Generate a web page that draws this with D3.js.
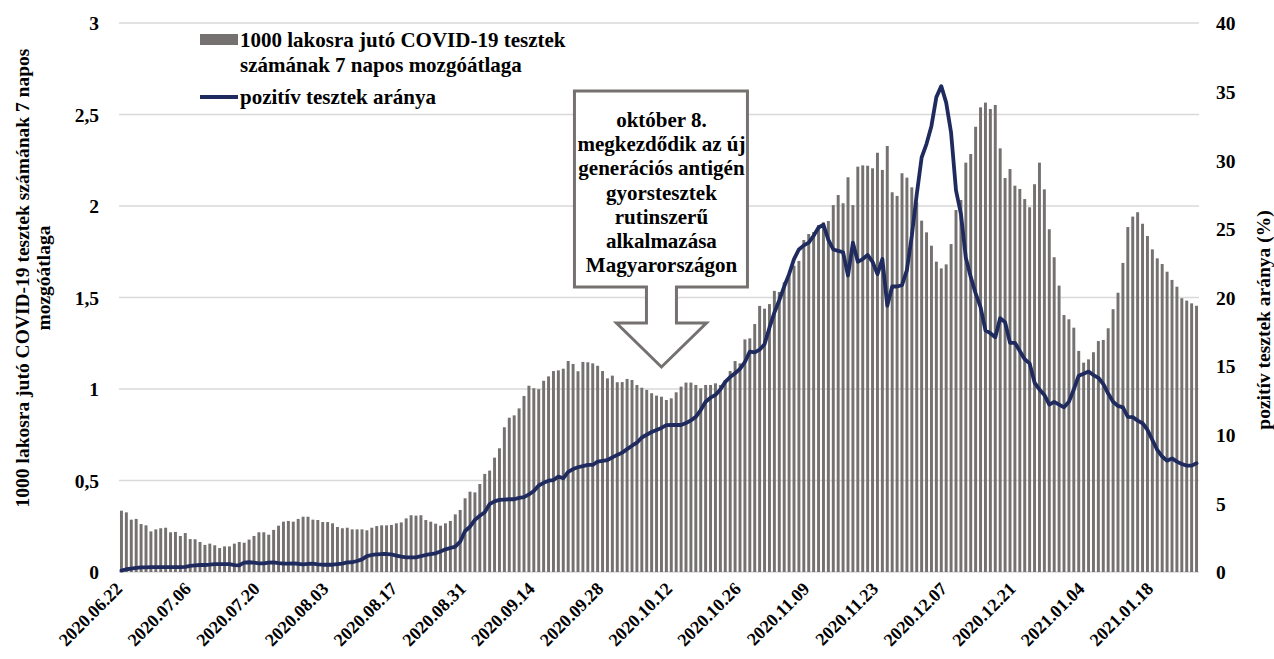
<!DOCTYPE html>
<html>
<head>
<meta charset="utf-8">
<script src="https://cdn.jsdelivr.net/npm/d3@7"></script>
<style>
  body { margin: 0; background: #fff; }
  text { font-family: "Liberation Serif", "Times New Roman", serif; font-weight: bold; fill: #000; }
</style>
</head>
<body>
<div id="main"></div>
<script>
// napi adatok 2020.06.22 - 2021.01.27
var startDate = new Date(2020, 5, 22);
var nDays = 220;

// 1000 lakosra jutó tesztek 7 napos mozgóátlaga
var tests = [
    0.335, 0.326, 0.286, 0.29, 0.262, 0.255, 0.222, 0.233, 0.239, 0.242,
    0.217, 0.219, 0.197, 0.213, 0.18, 0.179, 0.164, 0.148, 0.155, 0.146,
    0.131, 0.14, 0.14, 0.155, 0.164, 0.16, 0.177, 0.197, 0.217, 0.217,
    0.204, 0.23, 0.253, 0.275, 0.279, 0.275, 0.29, 0.302, 0.302, 0.286,
    0.284, 0.273, 0.273, 0.266, 0.246, 0.239, 0.242, 0.233, 0.233, 0.233,
    0.228, 0.242, 0.251, 0.255, 0.255,
    0.257, 0.266, 0.271, 0.293, 0.31, 0.308, 0.31, 0.284, 0.275, 0.264,
    0.253, 0.266, 0.279, 0.315, 0.339, 0.403, 0.439, 0.435, 0.481, 0.536,
    0.554, 0.625, 0.676, 0.791, 0.843, 0.856, 0.894, 0.962, 1.018, 1.004,
    0.999, 1.045, 1.069, 1.098, 1.102, 1.111, 1.153, 1.137, 1.097, 1.148,
    1.146, 1.14, 1.127, 1.098, 1.058, 1.073, 1.037, 1.038, 1.055, 1.049,
    1.022, 1.007, 0.995, 0.977, 0.964,
    0.958, 0.94, 0.949, 0.982, 1.013, 1.035, 1.035, 1.022, 1.004, 1.022,
    1.022, 1.031, 1.022, 1.049, 1.098, 1.153, 1.14, 1.271, 1.277, 1.355,
    1.454, 1.439, 1.464, 1.536, 1.53, 1.583, 1.63, 1.674, 1.7, 1.814,
    1.847, 1.858, 1.896, 1.911, 1.918, 2.005, 2.06, 2.015, 2.157, 2.005,
    2.215, 2.222, 2.22, 2.206, 2.291, 2.197, 2.328, 2.075, 2.055, 2.179,
    2.155, 2.102, 2.02,
    1.92, 1.856, 1.783, 1.696, 1.659, 1.681, 1.792, 1.978, 2.033, 2.237,
    2.284, 2.433, 2.539, 2.565, 2.53, 2.552, 2.315, 2.153, 2.202, 2.111,
    2.093, 2.038, 1.993, 2.119, 2.237, 2.091, 1.873, 1.72, 1.565, 1.404,
    1.381, 1.335, 1.208, 1.144, 1.162, 1.201, 1.262, 1.268, 1.332, 1.436,
    1.526, 1.689, 1.885, 1.942, 1.966, 1.903, 1.836, 1.763, 1.714, 1.683,
    1.641, 1.596, 1.559, 1.496, 1.483, 1.468, 1.455
];

// pozitív tesztek aránya (%)
var positive = [
    0.1, 0.2, 0.25, 0.3, 0.34, 0.34, 0.35, 0.35, 0.35, 0.35,
    0.35, 0.35, 0.36, 0.38, 0.44, 0.48, 0.51, 0.51, 0.53, 0.58,
    0.58, 0.58, 0.58, 0.5, 0.49, 0.68, 0.71, 0.68, 0.63, 0.63,
    0.68, 0.7, 0.64, 0.61, 0.61, 0.63, 0.6, 0.56, 0.59, 0.61,
    0.56, 0.53, 0.53, 0.53, 0.57, 0.61, 0.7, 0.71, 0.8, 0.92,
    1.15, 1.24, 1.28, 1.31, 1.31, 1.28, 1.2, 1.12, 1.07, 1.07,
    1.07, 1.15, 1.24, 1.3, 1.36, 1.5, 1.65, 1.75, 1.85, 2.21,
    2.99, 3.3, 3.8, 4.1, 4.35, 4.95, 5.15, 5.25, 5.28, 5.3,
    5.3, 5.4, 5.45, 5.65, 5.9, 6.3, 6.5, 6.65, 6.7, 6.95,
    6.83, 7.3, 7.5, 7.63, 7.72, 7.8, 7.8, 8.05, 8.1, 8.16,
    8.35, 8.53, 8.7, 8.95, 9.2, 9.42, 9.8, 10.0, 10.2, 10.35,
    10.5, 10.7, 10.71, 10.71, 10.71, 10.85, 11.05, 11.3, 11.8, 12.4,
    12.7, 12.9, 13.3, 13.85, 14.2, 14.48, 14.8, 15.3, 16.06, 16.0,
    16.2, 16.6, 17.8, 18.9, 19.8, 20.8, 21.7, 22.8, 23.5, 23.8,
    24.0, 24.5, 25.1, 25.3, 24.2, 23.5, 23.4, 23.3, 21.6, 24.0,
    22.6, 22.8, 23.1, 22.6, 21.7, 22.8, 19.4, 20.8, 20.8, 20.9,
    22.0, 24.5, 27.5, 30.2, 31.2, 32.5, 34.6, 35.4, 34.2, 32.0,
    27.8, 26.1, 22.9, 21.5, 20.3, 19.3, 17.6, 17.4, 17.1, 18.5,
    18.2, 16.7, 16.7, 16.1, 15.5, 15.2, 13.8, 13.3, 12.9, 12.2,
    12.4, 12.2, 12.0, 12.4, 13.3, 14.3, 14.45, 14.6, 14.35, 14.15,
    13.7, 13.0, 12.4, 12.1, 12.0, 11.3, 11.28, 11.03, 10.84, 10.35,
    9.62, 8.89, 8.41, 8.11, 8.28, 8.04, 7.87, 7.75, 7.75, 7.92
];

var leftTicks = [0, 0.5, 1, 1.5, 2, 2.5, 3];
var rightTicks = [0, 5, 10, 15, 20, 25, 30, 35, 40];
var tickEvery = 14;

var noteLines = ["október 8.", "megkezdődik az új", "generációs antigén",
    "gyorstesztek", "rutinszerű", "alkalmazása", "Magyarországon"];

var ctx = {
    w: 1274,
    h: 659,
    left: 119,
    right: 1199,
    top: 23,
    bottom: 572,
    barColor: "#767171",
    lineColor: "#1f2b5e",
};

var createViz = function () {
    var svg = d3.select("#main").append("svg")
        .attr("width", ctx.w)
        .attr("height", ctx.h);

    var days = d3.range(nDays).map(function (i) {
        return d3.timeDay.offset(startDate, i);
    });
    var fmt = d3.timeFormat("%Y.%m.%d");

    var x = d3.scaleBand()
        .domain(days.map(fmt))
        .range([ctx.left, ctx.right])
        .paddingInner(0.4)
        .paddingOuter(0.2);
    var yL = d3.scaleLinear().domain([0, 3]).range([ctx.bottom, ctx.top]);
    var yR = d3.scaleLinear().domain([0, 40]).range([ctx.bottom, ctx.top]);

    // rácsvonalak
    svg.append("g")
        .selectAll("line")
        .data(leftTicks)
        .enter()
        .append("line")
        .attr("x1", ctx.left)
        .attr("x2", ctx.right)
        .attr("y1", function (d) { return yL(d); })
        .attr("y2", function (d) { return yL(d); })
        .style("stroke", "#d9d9d9")
        .style("stroke-width", 1.3);

    // oszlopok
    svg.append("g")
        .selectAll("rect")
        .data(tests)
        .enter()
        .append("rect")
        .attr("x", function (d, i) { return x(fmt(days[i])); })
        .attr("width", x.bandwidth())
        .attr("y", function (d) { return yL(d); })
        .attr("height", function (d) { return yL(0) - yL(d); })
        .attr("fill", ctx.barColor);

    // vonal
    var line = d3.line()
        .x(function (d, i) { return x(fmt(days[i])) + x.bandwidth() / 2; })
        .y(function (d) { return yR(d); });
    svg.append("path")
        .datum(positive)
        .attr("d", line)
        .attr("fill", "none")
        .style("stroke", ctx.lineColor)
        .style("stroke-width", 3.8)
        .style("stroke-linejoin", "round")
        .style("stroke-linecap", "round");

    // bal tengely
    var axL = svg.append("g")
        .attr("transform", "translate(" + (ctx.left - 17) + ",0)")
        .call(d3.axisLeft(yL).tickValues(leftTicks).tickSize(0)
            .tickFormat(function (d) { return String(d).replace(".", ","); }));
    axL.select(".domain").remove();
    axL.selectAll("text").style("font-size", "19.5px").attr("dy", "0.35em");

    // jobb tengely
    var axR = svg.append("g")
        .attr("transform", "translate(" + (ctx.right + 14) + ",0)")
        .call(d3.axisRight(yR).tickValues(rightTicks).tickSize(0));
    axR.select(".domain").remove();
    axR.selectAll("text").style("font-size", "19.5px").attr("dy", "0.35em");

    // x tengely feliratai
    svg.append("g")
        .selectAll("text")
        .data(days.filter(function (d, i) { return i % tickEvery === 0; }))
        .enter()
        .append("text")
        .attr("transform", function (d) {
            var tx = x(fmt(d)) + x.bandwidth() / 2 + 2;
            return "translate(" + tx + "," + (ctx.bottom + 18) + ") rotate(-45)";
        })
        .attr("text-anchor", "end")
        .style("font-size", "18px")
        .text(fmt);

    // tengelycímek
    svg.append("text")
        .attr("transform", "translate(29,278) rotate(-90)")
        .attr("text-anchor", "middle")
        .style("font-size", "19.5px")
        .text("1000 lakosra jutó COVID-19 tesztek számának 7 napos");
    svg.append("text")
        .attr("transform", "translate(50,278) rotate(-90)")
        .attr("text-anchor", "middle")
        .style("font-size", "19.5px")
        .text("mozgóátlaga");
    svg.append("text")
        .attr("transform", "translate(1270,320) rotate(-90)")
        .attr("text-anchor", "middle")
        .style("font-size", "19.5px")
        .text("pozitív tesztek aránya (%)");

    // jelmagyarázat
    var lg = svg.append("g");
    lg.append("rect")
        .attr("x", 200).attr("y", 34).attr("width", 38).attr("height", 11)
        .attr("fill", ctx.barColor);
    lg.append("text").attr("x", 240).attr("y", 47).style("font-size", "21px")
        .text("1000 lakosra jutó COVID-19 tesztek");
    lg.append("text").attr("x", 240).attr("y", 72).style("font-size", "21px")
        .text("számának 7 napos mozgóátlaga");
    lg.append("line")
        .attr("x1", 200).attr("x2", 238).attr("y1", 97).attr("y2", 97)
        .style("stroke", ctx.lineColor).style("stroke-width", 3.8);
    lg.append("text").attr("x", 240).attr("y", 104).style("font-size", "21px")
        .text("pozitív tesztek aránya");

    // nyilas szövegdoboz
    var cx = x(fmt(days[110])) + x.bandwidth() / 2;
    var bx0 = cx - 87, bx1 = cx + 86, by0 = 91, by1 = 287;
    var shaft = 15, wing = 45, wingY = 323, tipY = 367;
    var pts = [
        [bx0, by0], [bx1, by0], [bx1, by1], [cx + shaft, by1], [cx + shaft, wingY],
        [cx + wing, wingY], [cx, tipY], [cx - wing, wingY], [cx - shaft, wingY],
        [cx - shaft, by1], [bx0, by1]
    ];
    svg.append("path")
        .attr("d", d3.line()(pts) + "Z")
        .attr("fill", "#fff")
        .style("stroke", ctx.barColor)
        .style("stroke-width", 3);
    svg.append("g")
        .selectAll("text")
        .data(noteLines)
        .enter()
        .append("text")
        .attr("x", cx)
        .attr("y", function (d, i) { return 127 + i * 24.2; })
        .attr("text-anchor", "middle")
        .style("font-size", "21px")
        .text(function (d) { return d; });
};

createViz();
</script>
</body>
</html>
